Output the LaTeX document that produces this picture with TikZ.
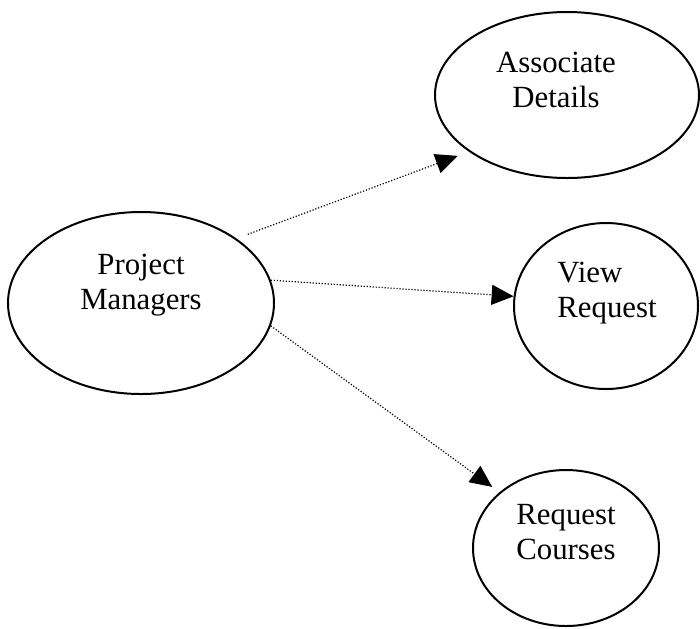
\documentclass[tikz,border=0pt]{standalone}
\usepackage{fontspec}
\setmainfont{Liberation Serif}
\usetikzlibrary{shapes.geometric,arrows.meta}
\tikzset{
	usecase/.style={draw, ellipse, line width=1pt, inner sep=0pt},
	casetext/.style={align=center, inner sep=0pt, font=\fontsize{15.4}{17.5}\selectfont},
	assoc/.style={line width=0.6pt, dash pattern=on 0.6pt off 0.9pt, -{Triangle[length=11pt,width=10pt]}}
}

\begin{document}
\begin{tikzpicture}[x=0.5pt, y=-0.5pt]
		%%%%% START %%%%%
		\useasboundingbox (0, 0) rectangle (700, 628);
		
		\node[usecase, minimum width=133pt, minimum height=91pt] (pm) at (141, 303) {};
		\node[casetext] (pmtext) at (141, 285) {Project\\Managers};
		
		\node[usecase, minimum width=132pt, minimum height=83pt] (ad) at (567, 95) {};
		\node[casetext] (adtext) at (556, 80) {Associate\\Details};
		
		\node[usecase, minimum width=92pt, minimum height=83pt] (vr) at (606, 306) {};
		\node[casetext, align=left] (vrtext) at (607, 293) {View\\Request};
		
		\node[usecase, minimum width=93pt, minimum height=78pt] (rc) at (566, 548) {};
		\node[casetext] (rctext) at (566, 532) {Request\\Courses};
		
		\draw[assoc, shorten <=6pt, shorten >=6pt] (pm.34) -- (ad.210);
		\draw[assoc] (pm.10) -- (vr.174);
		\draw[assoc, shorten >=4.5pt] (pm.-10) -- (rc.140);
		
		%%%%% END %%%%%
	\end{tikzpicture}
\end{document}
